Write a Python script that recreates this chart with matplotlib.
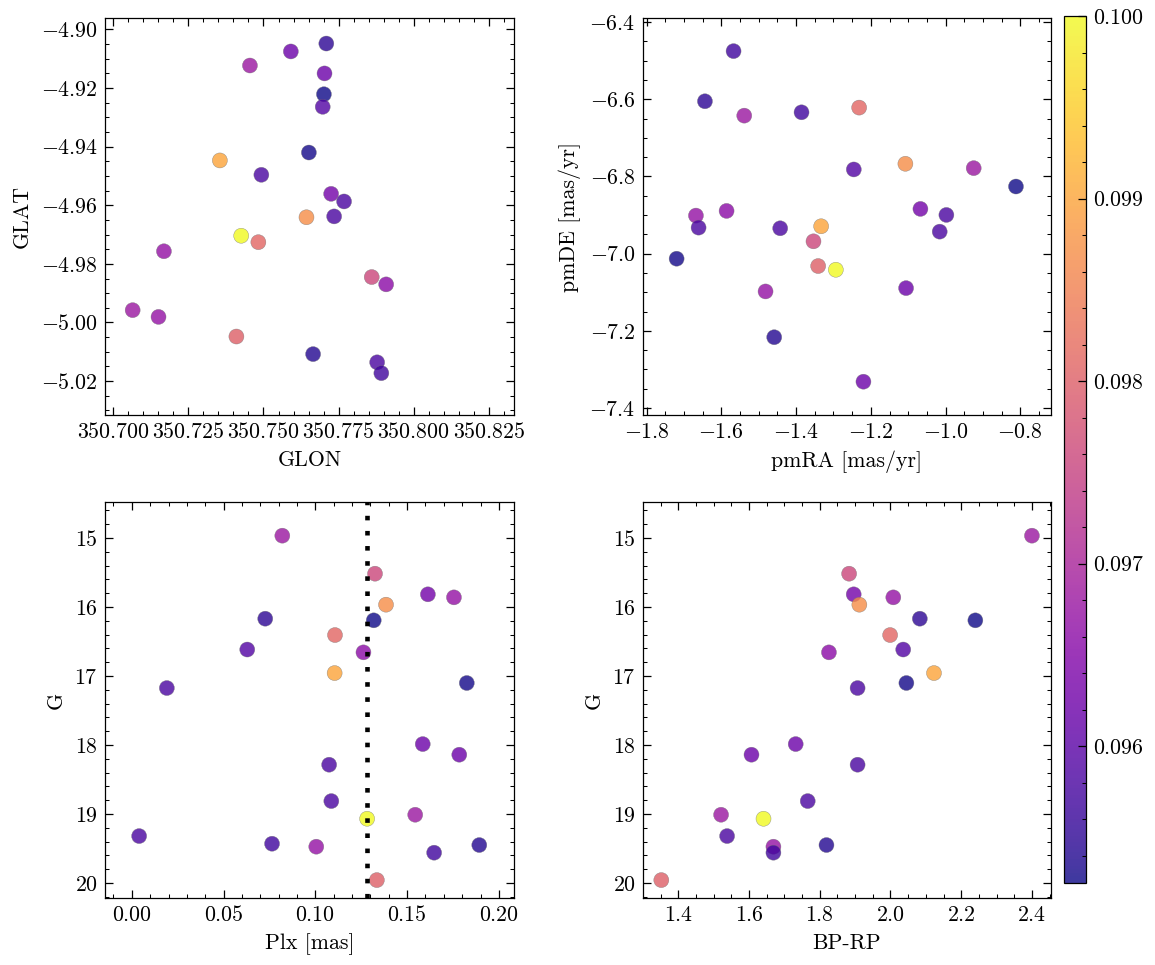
import numpy as np
import matplotlib
matplotlib.use("Agg")
import matplotlib.pyplot as plt

plt.rcParams['font.family'] = 'serif'
plt.rcParams['font.serif'] = ['cmr10']
plt.rcParams['mathtext.fontset'] = 'cm'
plt.rcParams['axes.formatter.use_mathtext'] = True
plt.rcParams['axes.unicode_minus'] = True
plt.rcParams['font.size'] = 10.5
plt.rcParams['axes.linewidth'] = 0.6
for ax_ in ['xtick', 'ytick']:
    plt.rcParams[ax_ + '.direction'] = 'in'
    plt.rcParams[ax_ + '.major.size'] = 3.8
    plt.rcParams[ax_ + '.minor.size'] = 1.9
    plt.rcParams[ax_ + '.major.width'] = 0.6
    plt.rcParams[ax_ + '.minor.width'] = 0.5
    plt.rcParams[ax_ + '.minor.visible'] = True
plt.rcParams['xtick.top'] = True
plt.rcParams['ytick.right'] = True

nan = np.nan
# one entry per star (first star has no position / colour in the catalogue)
glon = [nan, 350.7455, 350.7860, 350.7725, 350.7169, 350.7643, 350.7709, 350.7701,
        350.7483, 350.7697, 350.7908, 350.7355, 350.7493, 350.7651, 350.7591, 350.7703,
        350.7768, 350.7735, 350.7426, 350.7065, 350.7878, 350.7151, 350.7665, 350.7892,
        350.7410]
glat = [nan, -4.9123, -4.9845, -4.9561, -4.9757, -4.9641, -4.9048, -4.9221,
        -4.9726, -4.9264, -4.9870, -4.9447, -4.9496, -4.9420, -4.9075, -4.9150,
        -4.9587, -4.9638, -4.9704, -4.9958, -5.0136, -4.9981, -5.0108, -5.0173,
        -5.0048]
pmra = [-1.5674, -1.5388, -1.3535, -1.0673, -1.6681, -1.1075, -1.6440, -0.8116,
        -1.2313, -1.2456, -1.5861, -1.3330, -1.6610, -1.7198, -1.1057, -1.2198,
        -1.4426, -0.9978, -1.2937, -0.9247, -1.0157, -1.4818, -1.4586, -1.3855,
        -1.3410]
pmde = [-6.4753, -6.6424, -6.9680, -6.8840, -6.9013, -6.7671, -6.6052, -6.8260,
        -6.6216, -6.7818, -6.8892, -6.9290, -6.9325, -7.0130, -7.0892, -7.3316,
        -6.9342, -6.8996, -7.0416, -6.7784, -6.9429, -7.0978, -7.2164, -6.6338,
        -7.0320]
plx = [0.0764, 0.0820, 0.1325, 0.1613, 0.1755, 0.1385, 0.0727, 0.1318,
       0.1107, 0.0629, 0.1262, 0.1105, 0.0191, 0.1825, 0.1585, 0.1784,
       0.1075, 0.1087, 0.1282, 0.1544, 0.0040, 0.1005, 0.1893, 0.1647,
       0.1335]
gmag = [19.430, 14.966, 15.517, 15.816, 15.860, 15.966, 16.169, 16.193,
        16.406, 16.616, 16.657, 16.957, 17.174, 17.101, 17.986, 18.140,
        18.285, 18.812, 19.068, 19.010, 19.319, 19.473, 19.449, 19.560,
        19.957]
bprp = [nan, 2.400, 1.883, 1.896, 2.008, 1.912, 2.083, 2.240,
        1.999, 2.036, 1.826, 2.123, 1.907, 2.045, 1.732, 1.607,
        1.907, 1.766, 1.641, 1.521, 1.538, 1.669, 1.819, 1.669,
        1.352]
cval = [0.0957, 0.0968, 0.0976, 0.0963, 0.0967, 0.0987, 0.0955, 0.09525,
        0.0981, 0.0959, 0.0966, 0.0990, 0.0958, 0.0953, 0.0962, 0.0962,
        0.0958, 0.0958, 0.1000, 0.0968, 0.0958, 0.0967, 0.0954, 0.0957,
        0.0980]
plx_cut = 0.128

fig = plt.figure(figsize=(7.7, 965 / 150), dpi=150)
ax1 = fig.add_axes([0.0909, 0.5699, 0.3541, 0.4114])
ax2 = fig.add_axes([0.5567, 0.5699, 0.3532, 0.4114])
ax3 = fig.add_axes([0.0909, 0.0694, 0.3541, 0.4104])
ax4 = fig.add_axes([0.5567, 0.0694, 0.3532, 0.4104])
cax = fig.add_axes([0.9212, 0.0850, 0.0190, 0.8984])

kw = dict(c=cval, cmap='plasma', vmin=min(cval), vmax=max(cval),
          s=52, alpha=0.8, edgecolors='0.45', linewidths=0.2)

sc = ax1.scatter(glon, glat, **kw)
ax1.set_xlim(350.6973, 350.8333)
ax1.set_ylim(-5.0316, -4.8961)
ax1.ticklabel_format(useOffset=False)
ax1.set_xlabel('GLON')
ax1.set_ylabel('GLAT')

ax2.scatter(pmra, pmde, **kw)
ax2.set_xlim(-1.8098, -0.718)
ax2.set_ylim(-7.418, -6.3896)
ax2.set_xlabel('pmRA [mas/yr]')
ax2.set_ylabel('pmDE [mas/yr]')

ax3.scatter(plx, gmag, **kw)
ax3.axvline(plx_cut, color='k', lw=2.2, linestyle=(0, (1, 2.3)))
ax3.set_xlim(-0.0146, 0.2082)
ax3.set_ylim(20.217, 14.478)
ax3.set_xlabel('Plx [mas]')
ax3.set_ylabel('G')

ax4.scatter(bprp, gmag, **kw)
ax4.set_xlim(1.3002, 2.4537)
ax4.set_ylim(20.217, 14.478)
ax4.set_xlabel('BP-RP')
ax4.set_ylabel('G')

cb = fig.colorbar(sc, cax=cax)
cb.set_ticks([0.096, 0.097, 0.098, 0.099, 0.100])
cb.minorticks_on()
cb.outline.set_linewidth(0.6)

fig.savefig('out.png', dpi=150)
